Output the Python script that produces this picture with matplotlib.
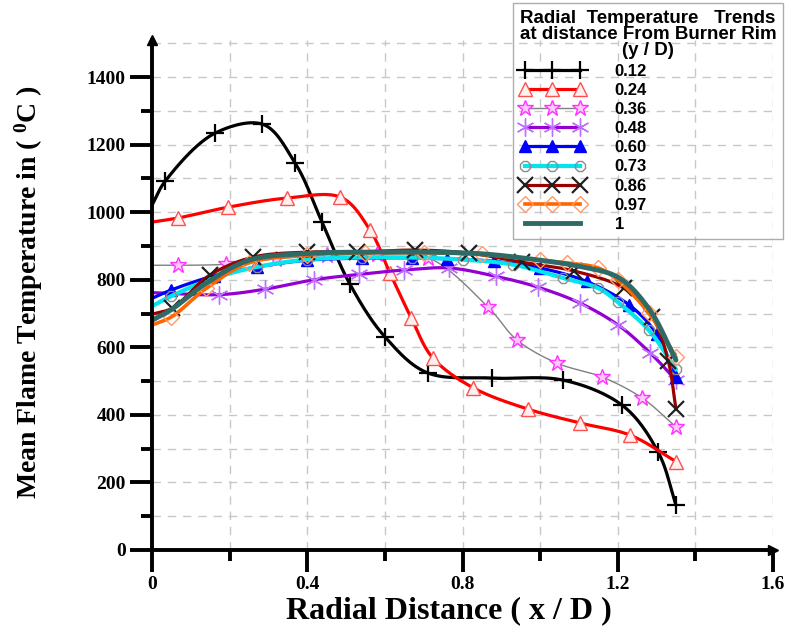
import matplotlib
matplotlib.use('Agg')
import matplotlib.pyplot as plt
import numpy as np

plt.rcParams['mathtext.fontset'] = 'custom'
plt.rcParams['mathtext.rm'] = 'Liberation Serif:bold'
plt.rcParams['mathtext.bf'] = 'Liberation Serif:bold'

# data (x / D, mean flame temperature in deg C)
x_012 = [0, 0.034, 0.162, 0.284, 0.369, 0.438, 0.510, 0.601, 0.711, 0.876, 1.059, 1.211, 1.304, 1.35]
t_012 = [1021, 1092, 1234, 1261, 1145, 971, 787, 630, 524, 509, 503, 429, 290, 133]

x_024 = [0, 0.067, 0.196, 0.348, 0.485, 0.562, 0.613, 0.668, 0.724, 0.828, 0.969, 1.103, 1.232, 1.35]
t_024 = [971, 983, 1015, 1042, 1045, 947, 820, 687, 568, 480, 417, 376, 340, 262]

x_036 = [0, 0.067, 0.191, 0.32, 0.45, 0.58, 0.71, 0.866, 0.941, 1.044, 1.16, 1.263, 1.35]
t_036 = [843, 843, 846, 862, 872, 875, 866, 719, 621, 553, 512, 450, 364]

x_048 = [0, 0.173, 0.29, 0.417, 0.533, 0.649, 0.765, 0.887, 0.995, 1.103, 1.201, 1.284, 1.35]
t_048 = [762, 756, 772, 800, 816, 829, 835, 810, 778, 731, 666, 583, 503]

x_060 = [0, 0.05, 0.16, 0.27, 0.40, 0.54, 0.67, 0.76, 0.88, 1.0, 1.12, 1.23, 1.30, 1.35]
t_060 = [745, 770, 812, 838, 858, 864, 865, 862, 855, 835, 795, 725, 640, 512]

x_073 = [0, 0.05, 0.16, 0.27, 0.40, 0.54, 0.67, 0.80, 0.93, 1.06, 1.15, 1.2, 1.28, 1.35]
t_073 = [722, 752, 805, 838, 860, 866, 866, 860, 845, 805, 775, 734, 651, 535]

x_086 = [0, 0.052, 0.149, 0.26, 0.40, 0.528, 0.678, 0.817, 0.954, 1.088, 1.216, 1.289, 1.33, 1.35]
t_086 = [698, 716, 814, 867, 882, 882, 888, 879, 852, 826, 775, 690, 560, 417]

x_097 = [0, 0.05, 0.14, 0.25, 0.40, 0.55, 0.70, 0.85, 1.0, 1.07, 1.15, 1.2, 1.28, 1.35]
t_097 = [666, 690, 775, 850, 873, 880, 880, 875, 858, 850, 835, 799, 701, 571]

x_100 = [0, 0.05, 0.14, 0.25, 0.40, 0.55, 0.70, 0.85, 1.0, 1.1, 1.2, 1.28, 1.35]
t_100 = [680, 712, 790, 858, 878, 882, 882, 877, 858, 840, 808, 715, 562]

labels = ['0.12', '0.24', '0.36', '0.48', '0.60', '0.73', '0.86', '0.97', '1']


# smooth curve through the read points (centripetal catmull-rom)
def smooth(xs, ys, n=30):
    p = np.column_stack([np.array(xs) / 1.6, np.array(ys) / 1500.0])
    p = np.vstack([2 * p[0] - p[1], p, 2 * p[-1] - p[-2]])
    out = []
    for i in range(1, len(p) - 2):
        p0, p1, p2, p3 = p[i - 1], p[i], p[i + 1], p[i + 2]
        t0 = 0.0
        t1 = t0 + np.linalg.norm(p1 - p0) ** 0.5
        t2 = t1 + np.linalg.norm(p2 - p1) ** 0.5
        t3 = t2 + np.linalg.norm(p3 - p2) ** 0.5
        t = np.linspace(t1, t2, n)[:, None]
        a1 = (t1 - t) / (t1 - t0) * p0 + (t - t0) / (t1 - t0) * p1
        a2 = (t2 - t) / (t2 - t1) * p1 + (t - t1) / (t2 - t1) * p2
        a3 = (t3 - t) / (t3 - t2) * p2 + (t - t2) / (t3 - t2) * p3
        b1 = (t2 - t) / (t2 - t0) * a1 + (t - t0) / (t2 - t0) * a2
        b2 = (t3 - t) / (t3 - t1) * a2 + (t - t1) / (t3 - t1) * a3
        c = (t2 - t) / (t2 - t1) * b1 + (t - t1) / (t2 - t1) * b2
        out.append(c)
    c = np.vstack(out)
    return c[:, 0] * 1.6, c[:, 1] * 1500.0


series = [
    (x_012, t_012, dict(color='black', lw=2.3), dict(marker='+', ms=13, mew=1.6, mec='black', mfc='none')),
    (x_024, t_024, dict(color='#ff0000', lw=2.3), dict(marker='^', ms=10, mew=1.0, mec='#ff5050', mfc='#fff0f0')),
    (x_036, t_036, dict(color='#808080', lw=1.0), dict(marker='*', ms=12, mew=1.0, mec='#ff33ff', mfc='#ffc8ff')),
    (x_048, t_048, dict(color='#9400d3', lw=2.3), dict(marker=(6, 2, 0), ms=13, mew=1.0, mec='#c070ff', mfc='none')),
    (x_060, t_060, dict(color='#0000ff', lw=2.3), dict(marker='^', ms=9, mew=1.0, mec='#0000ff', mfc='#0000ff')),
    (x_073, t_073, dict(color='#00e5ee', lw=3.0), dict(marker='8', ms=8, mew=1.0, mec='#8c8c8c', mfc='none')),
    (x_086, t_086, dict(color='#990000', lw=2.3), dict(marker='x', ms=11, mew=1.6, mec='#202020', mfc='none')),
    (x_097, t_097, dict(color='#ff6600', lw=2.6), dict(marker='D', ms=8, mew=1.0, mec='#ff9966', mfc='none')),
    (x_100, t_100, dict(color='#2e6b66', lw=3.5), None),
]

fig = plt.figure(figsize=(7.94, 6.34), dpi=100)
ax = fig.add_axes([152 / 794, 1 - 550 / 634, 621 / 794, 510 / 634])

handles = []
for (xs, ys, lstyle, mstyle), lab in zip(series, labels):
    sx, sy = smooth(xs, ys)
    ax.plot(sx, sy, solid_capstyle='round', **lstyle)
    if mstyle is not None:
        ax.plot(xs[1:], ys[1:], ls='none', **mstyle)
        h, = ax.plot([], [], **lstyle, **mstyle)
    else:
        h, = ax.plot([], [], **lstyle)
    h.set_label(lab)
    handles.append(h)

ax.set_xlim(0, 1.6)
ax.set_ylim(0, 1510)
ax.set_xticks([0, 0.4, 0.8, 1.2, 1.6])
ax.set_xticklabels(['0', '0.4', '0.8', '1.2', '1.6'])
ax.set_xticks(np.arange(0.2, 1.6, 0.4), minor=True)
ax.set_yticks(np.arange(0, 1401, 200))
ax.set_yticks(np.arange(100, 1400, 200), minor=True)

ax.spines['top'].set_visible(False)
ax.spines['right'].set_visible(False)
for s in ['left', 'bottom']:
    ax.spines[s].set_linewidth(2.8)
ax.tick_params(which='major', direction='out', length=16, width=2.8, pad=3)
ax.tick_params(which='minor', direction='out', length=8, width=2.8)
for lab in ax.get_xticklabels() + ax.get_yticklabels():
    lab.set_fontfamily('Liberation Serif')
    lab.set_fontweight('bold')
    lab.set_fontsize(14)

# dashed grid every 0.2 / 100
for gx in np.arange(0.2, 1.61, 0.2):
    ax.axvline(gx, color='#c8c8c8', lw=1.0, ls=(0, (6, 5)), zorder=0)
for gy in np.arange(100, 1501, 100):
    ax.axhline(gy, color='#c8c8c8', lw=1.0, ls=(0, (6, 5)), zorder=0)

# arrow heads on the axes
ax.plot(1, 0, '>', color='black', ms=7, transform=ax.transAxes, clip_on=False)
ax.plot(0, 1, '^', color='black', ms=7, transform=ax.transAxes, clip_on=False)

ax.set_xlabel('Radial Distance ( x / D )', fontfamily='Liberation Serif', fontweight='bold',
              fontsize=23)
ax.xaxis.set_label_coords(0.478, -0.09)
ax.set_ylabel(r'Mean Flame Temperature in ( $\mathbf{^{0}}$C )', fontfamily='Liberation Serif',
              fontweight='bold', fontsize=20)
ax.yaxis.set_label_coords(-0.172, 0.505)

leg = fig.legend(handles=handles, loc='upper right', bbox_to_anchor=(783 / 794, 1 - 3 / 634),
                 title='Radial  Temperature   Trends\nat distance From Burner Rim\n(y / D)',
                 prop={'family': 'Liberation Sans', 'weight': 'bold', 'size': 12},
                 title_fontproperties={'family': 'Liberation Sans', 'weight': 'bold', 'size': 13.5},
                 numpoints=3, handlelength=3.9, handletextpad=1.8, labelspacing=0.25,
                 alignment='left', fancybox=False, edgecolor='#999999', borderpad=0.4,
                 borderaxespad=0)
leg.get_title().set_multialignment('center')
leg.get_title().set_linespacing(0.95)
leg.get_frame().set_facecolor('none')
leg.get_frame().set_linewidth(1.0)

fig.savefig('out.png', dpi=100)
